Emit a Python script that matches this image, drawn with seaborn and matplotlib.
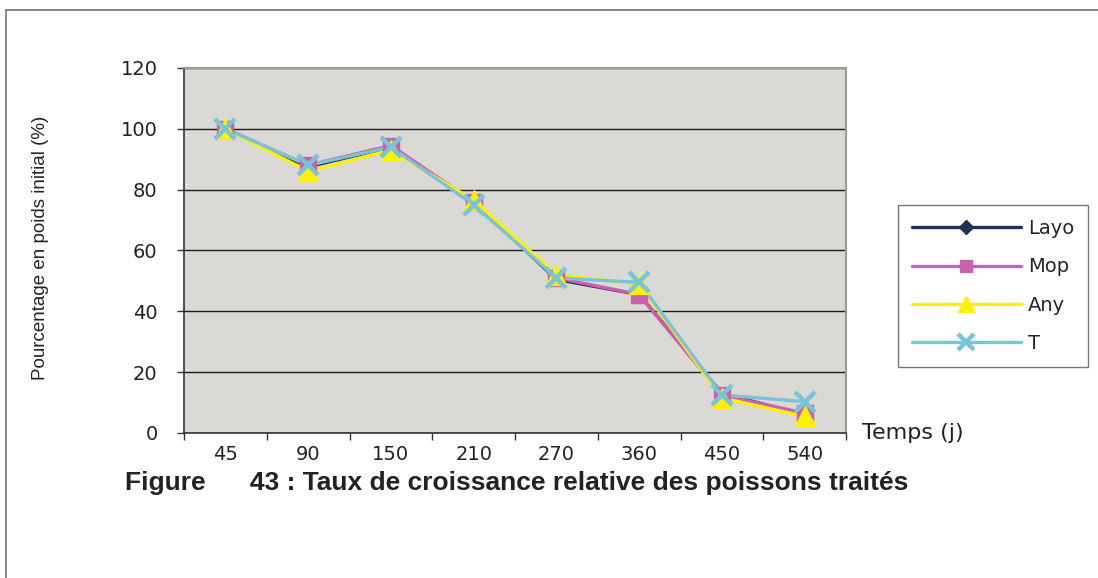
import matplotlib
matplotlib.use("Agg")
import matplotlib.pyplot as plt
from matplotlib.lines import Line2D
import seaborn as sns
import pandas as pd
import numpy as np

# Days since start of treatment
days = ["45", "90", "150", "210", "270", "360", "450", "540"]

# Percentage of initial weight for each treatment group
layo = [100, 87.5, 94, 76, 50.5, 45.5, 13, 6]
mop = [100, 88, 94.5, 76, 51, 45.5, 12.5, 6.5]
any_ = [100, 86, 93, 76.5, 52, 49, 11.5, 5.5]
t_ctrl = [100, 88, 94, 75, 51, 49.5, 12.5, 10.3]

series_names = ["Layo", "Mop", "Any", "T"]
series_values = [layo, mop, any_, t_ctrl]
y_ticks = [0, 20, 40, 60, 80, 100, 120]

df = pd.DataFrame({
    "Temps": days * len(series_names),
    "Valeur": sum(series_values, []),
    "Groupe": np.repeat(series_names, len(days)),
})

sns.set_theme(style="white")
plt.rcParams["font.family"] = ["Liberation Sans", "DejaVu Sans"]
wide = ["DejaVu Sans"]

fig = plt.figure(figsize=(10.98, 5.78), dpi=100)
ax = fig.add_axes([0.1676, 0.2509, 0.6029, 0.6315])
ax.set_facecolor("#dbd9d6")

palette = {"Layo": "#1f2f5a", "Mop": "#cc5fae", "Any": "#fff200", "T": "#78c4d8"}
markers = {"Layo": "D", "Mop": "s", "Any": "^", "T": "x"}
sizes = {"Layo": 6, "Mop": 11, "Any": 14, "T": 14}
legend_sizes = {"Layo": 7, "Mop": 9, "Any": 11, "T": 11}
edge_w = {"Layo": 1, "Mop": 1, "Any": 1, "T": 3.2}

sns.lineplot(data=df, x="Temps", y="Valeur", hue="Groupe", palette=palette,
             sort=False, linewidth=2.4, ax=ax, legend=False)
# markers drawn per group so each keeps its own size
for name in series_names:
    sub = df[df["Groupe"] == name]
    ax.plot(sub["Temps"], sub["Valeur"], linestyle="none", marker=markers[name],
            markersize=sizes[name], color=palette[name], markeredgewidth=edge_w[name],
            markeredgecolor=palette[name], zorder=4)

ax.set_xlim(-0.5, len(days) - 0.5)
ax.set_ylim(0, 120)
ax.set_yticks(y_ticks)
ax.set_yticklabels([str(v) for v in y_ticks], fontsize=14, color="#222222", family=wide)
ax.set_xticks(range(len(days)))
ax.set_xticklabels(days, fontsize=14, color="#222222", family=wide)
ax.set_xticks(np.arange(-0.5, len(days), 1.0), minor=True)
ax.tick_params(axis="x", which="major", length=0, pad=9)
ax.tick_params(axis="x", which="minor", length=5, width=1, color="#333333", direction="out", bottom=True)
ax.tick_params(axis="y", which="major", length=5, width=1, color="#333333", direction="out", left=True, pad=14)

ax.yaxis.grid(True, color="#1a1a1a", linewidth=1.0)
ax.xaxis.grid(False)
ax.set_axisbelow(True)
for side in ["top", "right"]:
    ax.spines[side].set_color("#9a9a9a")
    ax.spines[side].set_linewidth(1.5)
for side in ["left", "bottom"]:
    ax.spines[side].set_color("#333333")
    ax.spines[side].set_linewidth(1.2)

ax.set_xlabel("")
ax.set_ylabel("")
fig.text(0.037, 0.571, "Pourcentage en poids initial (%)", rotation=90, fontsize=13.5,
         color="#222222", va="center", ha="center")
fig.text(0.785, 0.2509, "Temps (j)", fontsize=16, color="#222222", va="center",
         ha="left", family=wide)

handles = [Line2D([0], [0], color=palette[n], marker=markers[n], lw=2.4,
                  markersize=legend_sizes[n], markeredgewidth=edge_w[n],
                  markeredgecolor=palette[n]) for n in series_names]
leg = fig.legend(handles, series_names, loc="center left",
                 bbox_to_anchor=(0.809, 0.505), frameon=True, fancybox=False,
                 prop={"family": wide, "size": 14}, handlelength=5.6, labelspacing=1.0,
                 borderpad=0.7, handletextpad=0.4)
leg.get_frame().set_edgecolor("#555555")
leg.get_frame().set_linewidth(1.0)

fig.text(0.114, 0.164, "Figure      43 : Taux de croissance relative des poissons traités",
         fontsize=19, fontweight="bold", color="#222222", va="center", ha="left")

# page frame
fig.add_artist(Line2D([0.0055, 0.0055], [0.983, 0.0], color="#777777", lw=1.2))
fig.add_artist(Line2D([0.0055, 1.0], [0.983, 0.983], color="#777777", lw=1.2))

fig.savefig("out.png", dpi=100)
